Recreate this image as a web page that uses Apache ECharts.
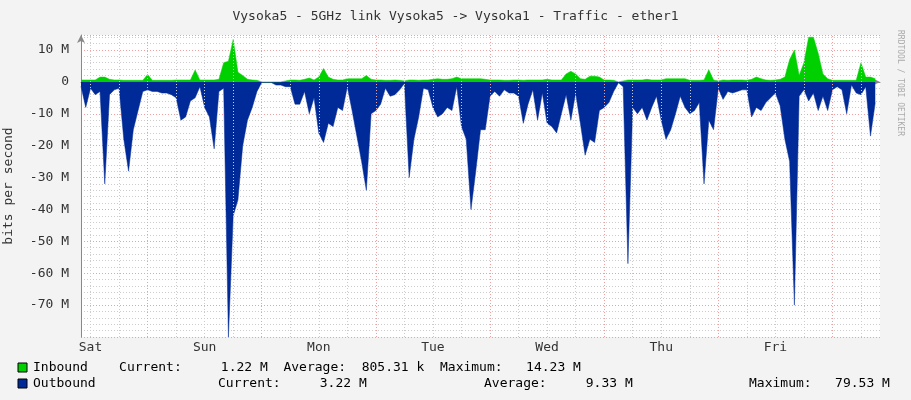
<!DOCTYPE html>
<html><head><meta charset="utf-8">
<script src="https://cdn.jsdelivr.net/npm/echarts@6/dist/echarts.min.js"></script>
<style>html,body{margin:0;padding:0;background:#f3f3f3}#c{width:911px;height:400px}</style>
</head><body><div id="c"></div>
<script>
// hours since Sat 00:00 of the first sample; one value per hour (in M bits/s)
const startHour = 10;
const dayLabels = ['Sat','Sun','Mon','Tue','Wed','Thu','Fri'];
const yTicks = [10,0,-10,-20,-30,-40,-50,-60,-70];
const inbound = [0.6,0.6,0.6,0.6,1.5,1.5,0.8,0.6,0.6,0.5,
0.5,0.5,0.5,0.5,2.3,0.5,0.5,0.5,0.5,0.5,
0.6,0.6,0.6,0.6,3.7,0.6,0.6,0.6,0.6,0.8,
6,6.5,13.3,3,2,0.8,0.6,0.5,0,0,
0,0,0,0.3,0.6,0.6,0.5,0.8,1.2,0.6,
1.5,4.2,1.5,0.8,0.6,0.6,1,1,1,1,
2,0.8,0.6,0.6,0.5,0.5,0.6,0.5,0.3,0.6,
0.6,0.5,0.6,0.6,0.8,1,0.8,0.8,1,1.5,
1,1,1,1,1,0.8,0.6,0.6,0.6,0.5,
0.5,0.6,0.6,0.5,0.6,0.6,0.6,0.6,0.8,0.6,
0.6,0.6,2.5,3.3,2.5,1,0.8,1.8,1.8,1.5,
0.6,0.6,0.5,0,0.3,0.6,0.6,0.6,0.6,0.8,
0.6,0.6,0.6,1,1,1,1,1,0.5,0.5,
0.5,0.6,3.8,0.6,0.3,0.6,0.5,0.6,0.6,0.6,
0.5,0.8,1.5,1,0.6,0.5,0.6,0.8,1.5,7,
10,2,6,14,14,9,2.5,1,0.5,0.5,
0.5,0.5,0.5,0.5,6,1.5,1.5,1];
const outbound = [1.4,8,2,4,3,32,4,2.5,2,18,
28,15,9,3,2.5,3,3,3.5,3.5,4,
5,12,11,6,5,1.5,8,11,21,3,
2,80,42,37,20,12,8,3,0.2,0.2,
0.2,1,1,1.5,1.5,7,7,3,10,5,
16,19,13,14,8,9,1.5,9,17,25,
34,10,9,7,2,4.5,4,2.5,0.5,30,
18,11,2,2.5,8,11,10,8,9,1.5,
14,18,40,28,15,15,4.5,3,4.5,2.5,
3.5,3.5,4.5,13,7,2.5,12,3.5,13,14,
16,10,4,12,3.5,13,23,18,19,9,
8,6.5,3,0.3,1.5,57,8,10,8,12,
8,4.5,12,18,15,10,4.5,8,10,9,
6.5,32,12,15,2,5.5,3,3.5,3,2.5,
2.5,11,8,9,6.5,5,3.5,7.5,18,25,
70,4.5,2.5,6,3.5,9,4.5,9,2.5,1.5,
2.5,10,1,3.5,4,1.5,17,6.5];

const xMin = startHour, xMax = startHour + 168;
const inData = inbound.map((v,i)=>[startHour+i, v]);
const outData = outbound.map((v,i)=>[startHour+i, -v]);
const minorX = [], majorX = [], noonX = [];
for (let h = 0; h <= xMax; h += 6) {
  if (h <= xMin || h >= xMax) continue;
  if (h % 24 === 0) majorX.push(h); else minorX.push(h);
}
for (let d = 0; d < dayLabels.length; d++) noonX.push(12 + 24*d);

const mono = 'DejaVu Sans Mono';
const chart = echarts.init(document.getElementById('c'));
chart.setOption({
  backgroundColor: '#f3f3f3',
  animation: false,
  title: { text: 'Vysoka5 - 5GHz link Vysoka5 -> Vysoka1 - Traffic - ether1', left: 'center', top: 5,
    textStyle: { fontFamily: mono, fontSize: 13, fontWeight: 'normal', color: '#333' } },
  grid: { left: 81, right: 31, top: 35, bottom: 63, show: true, backgroundColor: '#fff', borderWidth: 0,
    outerBoundsMode: 'none', containLabel: false },
  xAxis: {
    type: 'value', min: xMin, max: xMax,
    axisLine: { lineStyle: { color: '#888', width: 1 }, symbol: ['none','arrow'], symbolSize: [6,8] },
    axisTick: { show: false },
    splitLine: { show: false },
    axisLabel: { customValues: noonX, formatter: v => dayLabels[Math.round((v-12)/24)] || '',
      fontFamily: mono, fontSize: 13, color: '#333', margin: 4 }
  },
  yAxis: {
    type: 'value', min: -80, max: 14.7, interval: 10,
    name: 'bits per second', nameLocation: 'middle', nameGap: 66,
    nameTextStyle: { fontFamily: mono, fontSize: 13, color: '#333' },
    axisLine: { show: true, lineStyle: { color: '#888' }, symbol: ['none','arrow'], symbolSize: [6,8] },
    axisTick: { show: false },
    axisLabel: { customValues: yTicks, formatter: v => v === 0 ? '0' : v + ' M',
      fontFamily: mono, fontSize: 13, color: '#333', margin: 12 },
    splitLine: { lineStyle: { color: '#f0a0a0', type: [1,2] } },
    minorTick: { show: false, splitNumber: 5 },
    minorSplitLine: { show: true, lineStyle: { color: '#ccc', type: [1,2] } }
  },
  series: [
    { type: 'line', data: outData, symbol: 'none', lineStyle: { width: 0.5, color: '#002A97' },
      areaStyle: { color: '#002A97', opacity: 1 }, z: 3,
      markLine: { silent: true, symbol: 'none', label: { show: false },
        data: minorX.map(x=>({ xAxis: x, lineStyle: { color: '#ccc', type: [1,2], width: 1 } }))
          .concat(majorX.map(x=>({ xAxis: x, lineStyle: { color: '#f0a0a0', type: [1,2], width: 1 } }))) } },
    { type: 'line', data: inData, symbol: 'none', lineStyle: { width: 0.5, color: '#00CF00' },
      areaStyle: { color: '#00CF00', opacity: 1 }, z: 3 }
  ],
  graphic: [
    { type: 'text', left: 896, top: 30, rotation: -Math.PI/2, style: { text: 'RRDTOOL / TOBI OETIKER', fontFamily: mono, fontSize: 8, fill: '#aaa' } },
    { type: 'rect', shape: { x: 18, y: 363, width: 9, height: 9 }, style: { fill: '#00CF00', stroke: '#000', lineWidth: 1 } },
    { type: 'rect', shape: { x: 18, y: 379, width: 9, height: 9 }, style: { fill: '#002A97', stroke: '#000', lineWidth: 1 } },
    { type: 'text', x: 33, y: 361, style: { text: 'Inbound    Current:     1.22 M  Average:  805.31 k  Maximum:   14.23 M', fontFamily: mono, fontSize: 13, fill: '#000' } },
    { type: 'text', x: 33, y: 377, style: { text: 'Outbound', fontFamily: mono, fontSize: 13, fill: '#000' } },
    { type: 'text', x: 218, y: 377, style: { text: 'Current:     3.22 M', fontFamily: mono, fontSize: 13, fill: '#000' } },
    { type: 'text', x: 484, y: 377, style: { text: 'Average:     9.33 M', fontFamily: mono, fontSize: 13, fill: '#000' } },
    { type: 'text', x: 749, y: 377, style: { text: 'Maximum:   79.53 M', fontFamily: mono, fontSize: 13, fill: '#000' } }
  ]
});
</script></body></html>
